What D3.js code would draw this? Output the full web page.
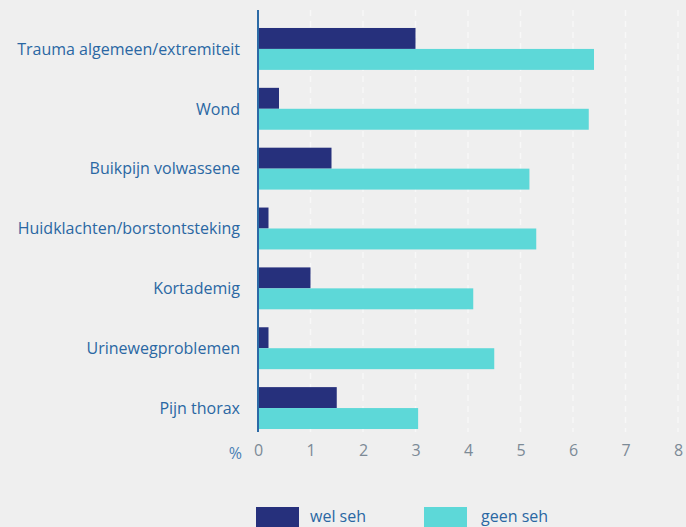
<!DOCTYPE html>
<html>
<head>
<meta charset="utf-8">
<script src="https://cdn.jsdelivr.net/npm/d3@7"></script>
<style>
  body { margin: 0; background: #efefef; }
  svg { display: block; font-family: "Open Sans", sans-serif; }
</style>
</head>
<body>
<svg id="chart" width="686" height="527"></svg>
<script>
const categories = [
  "Trauma algemeen/extremiteit",
  "Wond",
  "Buikpijn volwassene",
  "Huidklachten/borstontsteking",
  "Kortademig",
  "Urinewegproblemen",
  "Pijn thorax",
];
const welSeh = [3.0, 0.4, 1.4, 0.2, 1.0, 0.2, 1.5];
const geenSeh = [6.4, 6.3, 5.17, 5.3, 4.1, 4.5, 3.05];
const ticks = [0, 1, 2, 3, 4, 5, 6, 7, 8];
const seriesNames = ["wel seh", "geen seh"];
const colors = ["#26307c", "#5dd8d8"];

const svg = d3.select("#chart");
const x = d3.scaleLinear().domain([0, 8]).range([258, 678]);
const y = d3.scaleBand().domain(categories).range([19, 438]).paddingInner(0.3).paddingOuter(0.15);
const inner = d3.scaleBand().domain(seriesNames).range([0, y.bandwidth()]);

// faint dashed gridlines
svg.append("g")
  .selectAll("line")
  .data(ticks.slice(1))
  .join("line")
  .attr("x1", d => x(d)).attr("x2", d => x(d))
  .attr("y1", 10).attr("y2", 432)
  .attr("stroke", "#ffffff")
  .attr("stroke-opacity", 0.55)
  .attr("stroke-width", 1.5)
  .attr("stroke-dasharray", "6,5");

const rows = categories.map((c, i) => ({ c, vals: [welSeh[i], geenSeh[i]] }));
const grp = svg.append("g").selectAll("g").data(rows).join("g")
  .attr("transform", d => `translate(0,${y(d.c)})`);

grp.selectAll("rect")
  .data(d => d.vals.map((v, k) => ({ v, k })))
  .join("rect")
  .attr("x", x(0))
  .attr("y", d => inner(seriesNames[d.k]))
  .attr("width", d => x(d.v) - x(0))
  .attr("height", inner.bandwidth())
  .attr("fill", d => colors[d.k]);

grp.append("text")
  .attr("x", 240)
  .attr("y", y.bandwidth() / 2)
  .attr("dy", "0.36em")
  .attr("text-anchor", "end")
  .attr("fill", "#2a67a3")
  .attr("font-size", 16)
  .attr("font-weight", 500)
  .text(d => d.c);

// axis line
svg.append("line")
  .attr("x1", x(0)).attr("x2", x(0))
  .attr("y1", 10).attr("y2", 432)
  .attr("stroke", "#2c6aa6").attr("stroke-width", 2);

// tick labels
const xAxis = d3.axisBottom(x).tickValues(ticks).tickSize(0).tickPadding(0);
const ax = svg.append("g").attr("transform", "translate(0,445)").call(xAxis);
ax.select(".domain").remove();
ax.selectAll("text")
  .attr("font-size", 16)
  .attr("font-family", "Open Sans, sans-serif")
  .attr("fill", "#7c8a96");
svg.append("text")
  .attr("x", 242).attr("y", 459)
  .attr("text-anchor", "end")
  .attr("font-size", 16)
  .attr("fill", "#4a7fb5")
  .text("%");

// legend
const legendX = [256, 424];
const lg = svg.append("g").selectAll("g").data(seriesNames).join("g")
  .attr("transform", (d, i) => `translate(${legendX[i]},507)`);
lg.append("rect").attr("width", 43).attr("height", 22).attr("fill", (d, i) => colors[i]);
lg.append("text")
  .attr("x", (d, i) => i === 0 ? 54 : 57)
  .attr("y", 15)
  .attr("font-size", 16)
  .attr("font-weight", 500)
  .attr("fill", "#2a67a3")
  .text(d => d);
</script>
</body>
</html>
